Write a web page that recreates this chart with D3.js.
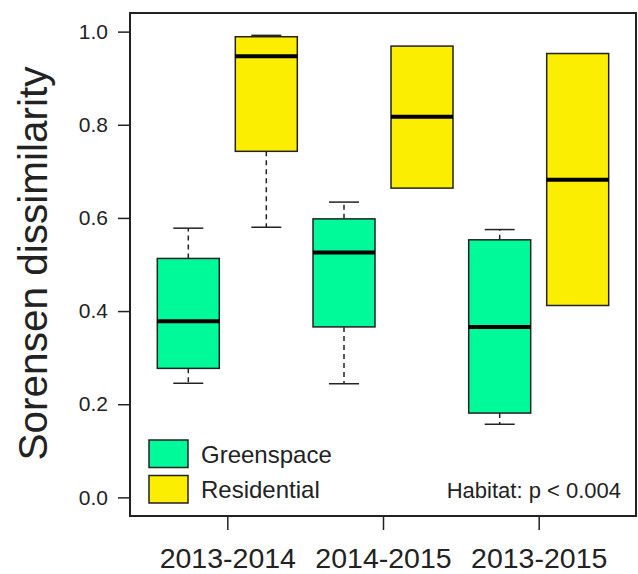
<!DOCTYPE html>
<html>
<head>
<meta charset="utf-8">
<script src="https://cdn.jsdelivr.net/npm/d3@7"></script>
<style>
  html, body { margin: 0; padding: 0; background: #fff; }
  svg { display: block; font-family: "Liberation Sans", Arial, sans-serif; }
</style>
</head>
<body>
<svg id="chart" width="638" height="574"></svg>
<script>
// ---- data ----
const periods  = ["2013-2014", "2014-2015", "2013-2015"];
const habitats = ["Greenspace", "Residential"];
const colors   = ["#00FA9A", "#FCEE00"];

// five-number summaries per habitat, one value per period
const greenLow    = [0.245, 0.244, 0.157];
const greenQ1     = [0.277, 0.366, 0.181];
const greenMedian = [0.378, 0.526, 0.366];
const greenQ3     = [0.513, 0.598, 0.553];
const greenHigh   = [0.578, 0.634, 0.575];

const resLow    = [0.580, 0.664, 0.412];
const resQ1     = [0.743, 0.664, 0.412];
const resMedian = [0.947, 0.817, 0.682];
const resQ3     = [0.989, 0.969, 0.953];
const resHigh   = [0.992, 0.969, 0.953];

const yTicks = [0, 0.2, 0.4, 0.6, 0.8, 1.0];

const boxes = [];
periods.forEach((p, i) => {
  boxes.push({ period: p, habitat: "Greenspace", lo: greenLow[i], q1: greenQ1[i], med: greenMedian[i], q3: greenQ3[i], hi: greenHigh[i] });
  boxes.push({ period: p, habitat: "Residential", lo: resLow[i], q1: resQ1[i], med: resMedian[i], q3: resQ3[i], hi: resHigh[i] });
});

// ---- layout ----
const svg = d3.select("#chart");
const plot = { left: 130, right: 636, top: 13, bottom: 516 };
const ink = "#222";

const x = d3.scalePoint().domain(periods).range([plot.left, plot.right]).padding(0.625);
const xInner = d3.scalePoint().domain(habitats).range([-39, 39]);
const color = d3.scaleOrdinal().domain(habitats).range(colors);
const y = d3.scaleLinear().domain([-0.04, 1.04]).range([plot.bottom, plot.top]);

const boxW = 62, capW = 30;

// y axis
const yAxis = svg.append("g")
  .attr("transform", `translate(${plot.left},0)`)
  .call(d3.axisLeft(y).tickValues(yTicks).tickFormat(d3.format(".1f")).tickSize(12).tickPadding(10));
yAxis.select(".domain").remove();
yAxis.selectAll("line").attr("stroke", ink).attr("stroke-width", 1.5);
yAxis.selectAll("text").attr("font-size", 21).attr("fill", ink)
  .attr("font-family", "Liberation Sans, Arial, sans-serif");

// x axis
const xAxis = svg.append("g")
  .attr("transform", `translate(0,${plot.bottom})`)
  .call(d3.axisBottom(x).tickSize(14));
xAxis.select(".domain").remove();
xAxis.selectAll("line").attr("stroke", ink).attr("stroke-width", 1.5);
xAxis.selectAll("text").attr("font-size", 28.5).attr("fill", ink)
  .attr("y", 52).attr("dy", 0)
  .attr("font-family", "Liberation Sans, Arial, sans-serif");

// y label
svg.append("text")
  .attr("transform", `translate(47,263.5) rotate(-90)`)
  .attr("text-anchor", "middle")
  .attr("font-size", 40.5)
  .attr("fill", ink)
  .text("Sorensen dissimilarity");

// boxes
const bx = d => x(d.period) + xInner(d.habitat);
const g = svg.append("g");
const box = g.selectAll("g.box").data(boxes).join("g").attr("class", "box");

box.filter(d => d.hi > d.q3).append("line")
  .attr("x1", bx).attr("x2", bx)
  .attr("y1", d => y(d.q3)).attr("y2", d => y(d.hi))
  .attr("stroke", ink).attr("stroke-width", 1.5).attr("stroke-dasharray", "5,4");
box.filter(d => d.lo < d.q1).append("line")
  .attr("x1", bx).attr("x2", bx)
  .attr("y1", d => y(d.q1)).attr("y2", d => y(d.lo))
  .attr("stroke", ink).attr("stroke-width", 1.5).attr("stroke-dasharray", "5,4");
box.filter(d => d.hi > d.q3).append("line")
  .attr("x1", d => bx(d) - capW / 2).attr("x2", d => bx(d) + capW / 2)
  .attr("y1", d => y(d.hi)).attr("y2", d => y(d.hi))
  .attr("stroke", ink).attr("stroke-width", 1.5);
box.filter(d => d.lo < d.q1).append("line")
  .attr("x1", d => bx(d) - capW / 2).attr("x2", d => bx(d) + capW / 2)
  .attr("y1", d => y(d.lo)).attr("y2", d => y(d.lo))
  .attr("stroke", ink).attr("stroke-width", 1.5);

box.append("rect")
  .attr("x", d => bx(d) - boxW / 2).attr("width", boxW)
  .attr("y", d => y(d.q3)).attr("height", d => y(d.q1) - y(d.q3))
  .attr("fill", d => color(d.habitat))
  .attr("stroke", ink).attr("stroke-width", 1.5);

box.append("line")
  .attr("x1", d => bx(d) - boxW / 2).attr("x2", d => bx(d) + boxW / 2)
  .attr("y1", d => y(d.med)).attr("y2", d => y(d.med))
  .attr("stroke", "#000").attr("stroke-width", 4);

// frame
svg.append("rect")
  .attr("x", plot.left).attr("y", plot.top)
  .attr("width", plot.right - plot.left).attr("height", plot.bottom - plot.top)
  .attr("fill", "none").attr("stroke", ink).attr("stroke-width", 2);

// legend
const legend = svg.append("g").attr("transform", "translate(149,440)");
const row = legend.selectAll("g").data(habitats).join("g")
  .attr("transform", (d, i) => `translate(0,${i * 35.5})`);
row.append("rect")
  .attr("width", 39).attr("height", 27.5)
  .attr("fill", d => color(d))
  .attr("stroke", ink).attr("stroke-width", 1.5);
row.append("text")
  .attr("x", 52).attr("y", 22.5)
  .attr("font-size", 24).attr("fill", ink)
  .text(d => d);

// annotation
svg.append("text")
  .attr("x", 621).attr("y", 498)
  .attr("text-anchor", "end")
  .attr("font-size", 22).attr("fill", ink)
  .text("Habitat: p < 0.004");
</script>
</body>
</html>
